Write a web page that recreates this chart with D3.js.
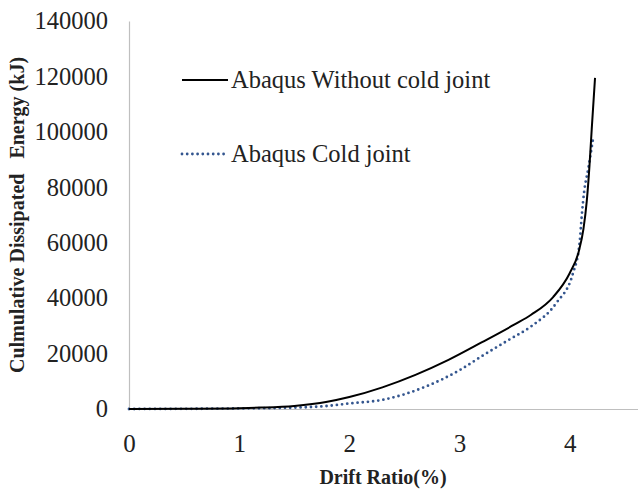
<script src="https://d3js.org/d3.v7.min.js"></script>
<style>
    body { margin:0; background:#fff; }
    svg text { font-family:"Liberation Serif", "Times New Roman", Times, "DejaVu Serif", serif; }
</style>
<svg id="chart"></svg>
<script>
    // data
    var driftNoJoint = [0, 0.5, 1.0, 1.2, 1.5, 1.8, 2.0, 2.3, 2.6, 2.9, 3.2, 3.5, 3.65, 3.85, 4.0, 4.08, 4.125, 4.155, 4.18, 4.2, 4.23];
    var energyNoJoint = [0, 100, 300, 500, 1100, 2600, 4300, 7800, 12300, 17700, 24000, 30500, 34000, 40400, 49000, 56500, 65000, 75000, 88000, 101000, 119500];
    var driftColdJoint = [0, 1.0, 1.5, 1.8, 2.0, 2.3, 2.7, 3.0, 3.2, 3.45, 3.65, 3.88, 4.03, 4.09, 4.11, 4.13, 4.17, 4.21];
    var energyColdJoint = [0, 200, 500, 1100, 2000, 3300, 8200, 14000, 19000, 25000, 29800, 38300, 49000, 60000, 70000, 78000, 87000, 97000];
    var xTicks = [0, 1, 2, 3, 4];
    var yTicks = [0, 20000, 40000, 60000, 80000, 100000, 120000, 140000];
    var seriesNames = ["Abaqus Without cold joint", "Abaqus Cold joint"];

    var serif = "'Liberation Serif', 'Times New Roman', Times, 'DejaVu Serif', serif";
    var screen = {width:638, height:490};
    var margins = {left:129, right:0, top:21, bottom:81};

    var svg = d3.select("#chart")
        .attr("width", screen.width)
        .attr("height", screen.height);

    var xScale = d3.scaleLinear()
        .domain([0, 4.62])
        .range([margins.left, screen.width - margins.right]);
    var yScale = d3.scaleLinear()
        .domain([0, 140000])
        .range([screen.height - margins.bottom, margins.top]);

    // axis lines, no tick marks
    var xAxis = d3.axisBottom(xScale).tickValues(xTicks).tickSize(0).tickPadding(25)
        .tickFormat(d3.format("d"));
    var gx = svg.append("g")
        .attr("transform", "translate(0," + yScale(0) + ")")
        .call(xAxis)
        .attr("font-family", serif);
    gx.select(".domain").attr("stroke", "#bfbfbf").attr("stroke-width", 1.2);
    gx.selectAll("text")
        .style("font-family", serif)
        .attr("font-size", 25)
        .attr("fill", "#222");

    var yAxis = d3.axisLeft(yScale).tickValues(yTicks).tickSize(0).tickPadding(21)
        .tickFormat(d3.format("d"));
    var gy = svg.append("g")
        .attr("transform", "translate(" + xScale(0) + ",0)")
        .call(yAxis)
        .attr("font-family", serif);
    gy.select(".domain").attr("stroke", "#bfbfbf").attr("stroke-width", 1.2);
    gy.selectAll("text")
        .style("font-family", serif)
        .attr("font-size", 24.5)
        .attr("fill", "#222");

    var line = d3.line()
        .x(function(d){ return xScale(d[0]); })
        .y(function(d){ return yScale(d[1]); })
        .curve(d3.curveMonotoneX);

    var coldPts = d3.zip(driftColdJoint, energyColdJoint);
    var noJointPts = d3.zip(driftNoJoint, energyNoJoint);

    svg.append("path")
        .attr("d", line(coldPts))
        .attr("fill", "none")
        .attr("stroke", "#34568f")
        .attr("stroke-width", 2.8)
        .attr("stroke-linecap", "round")
        .attr("stroke-dasharray", "0 5.2");

    svg.append("path")
        .attr("d", line(noJointPts))
        .attr("fill", "none")
        .attr("stroke", "#000")
        .attr("stroke-width", 2);

    // legend
    var legend = svg.append("g");
    legend.append("line")
        .attr("x1", 182).attr("x2", 228)
        .attr("y1", 80).attr("y2", 80)
        .attr("stroke", "#000").attr("stroke-width", 2);
    legend.append("text")
        .attr("x", 231).attr("y", 88)
        .style("font-family", serif)
        .attr("font-size", 24.5)
        .attr("fill", "#222")
        .text(seriesNames[0]);
    legend.append("line")
        .attr("x1", 182).attr("x2", 228)
        .attr("y1", 154).attr("y2", 154)
        .attr("stroke", "#34568f").attr("stroke-width", 2.8)
        .attr("stroke-linecap", "round")
        .attr("stroke-dasharray", "0 5.2");
    legend.append("text")
        .attr("x", 231).attr("y", 162)
        .style("font-family", serif)
        .attr("font-size", 24.5)
        .attr("fill", "#222")
        .text(seriesNames[1]);

    // axis titles
    svg.append("text")
        .attr("x", 383).attr("y", 484)
        .attr("text-anchor", "middle")
        .style("font-family", serif)
        .attr("font-size", 20)
        .attr("font-weight", "bold")
        .attr("fill", "#222")
        .text("Drift Ratio(%)");

    svg.append("text")
        .attr("transform", "translate(24,215) rotate(-90)")
        .attr("text-anchor", "middle")
        .style("font-family", serif)
        .attr("font-size", 20)
        .attr("font-weight", "bold")
        .attr("fill", "#222")
        .style("white-space", "pre")
        .text("Culmulative Dissipated   Energy (kJ)");
</script>
